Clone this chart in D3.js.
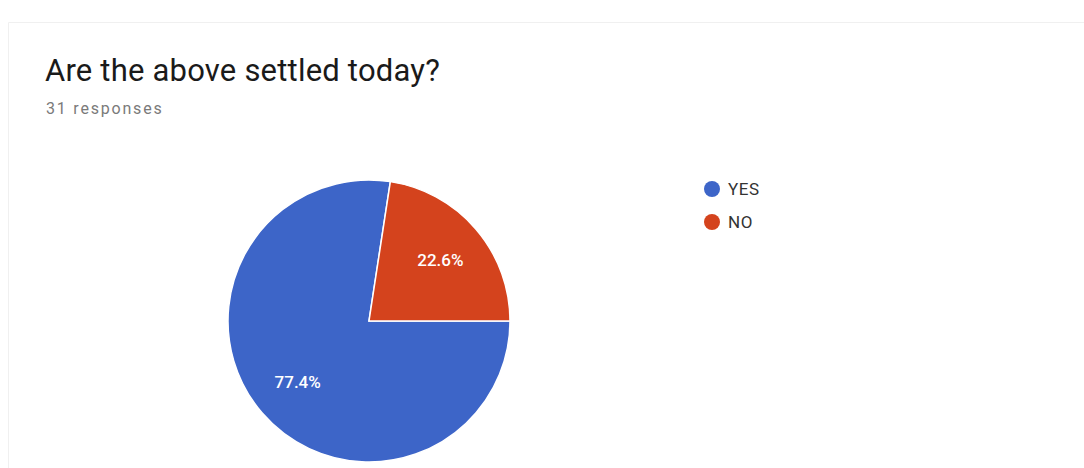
<!DOCTYPE html>
<html lang="en">
<head>
    <meta charset="UTF-8">
    <title>Are the above settled today?</title>
    <script src="https://d3js.org/d3.v7.min.js"></script>
    <style>
        body { margin: 0; background: #fff; }
        text { font-family: Roboto, Arial, sans-serif; }
    </style>
</head>
<body>
<div id="chart"></div>

<script>
    // answers and counts (31 responses)
    var answers = ["YES", "NO"];
    var counts = [24, 7];
    var colors = ["#3d65c8", "#d4431d"];
    var title = "Are the above settled today?";
    var subtitle = "31 responses";

    var width = 1084, height = 468;
    var cx = 369, cy = 321, radius = 141;

    var svg = d3.select("#chart")
        .append("svg")
            .attr("width", width)
            .attr("height", height);

    // faint card outline
    svg.append("path")
        .attr("d", "M8.5,468 V22.5 H1084")
        .attr("fill", "none")
        .attr("stroke", "#f0f0f0");

    svg.append("text")
        .attr("x", 45).attr("y", 81)
        .attr("font-size", 31)
        .attr("letter-spacing", 0.2)
        .attr("fill", "#1a1a1a")
        .text(title);

    svg.append("text")
        .attr("x", 46).attr("y", 114)
        .attr("font-size", 16)
        .attr("letter-spacing", 1.8)
        .attr("fill", "#7a7a7a")
        .text(subtitle);

    var total = d3.sum(counts);
    var data = answers.map(function (a, i) { return {answer: a, count: counts[i]}; });

    var color = d3.scaleOrdinal().domain(answers).range(colors);

    // pie starts at 3 o'clock and runs clockwise
    var pie = d3.pie()
        .sort(null)
        .value(function (d) { return d.count; })
        .startAngle(Math.PI / 2)
        .endAngle(Math.PI / 2 + 2 * Math.PI);

    var arc = d3.arc().innerRadius(0).outerRadius(radius);
    var labelArc = d3.arc().innerRadius(94).outerRadius(94);

    var g = svg.append("g")
        .attr("transform", "translate(" + cx + "," + cy + ")");

    var slices = g.selectAll("g.slice")
        .data(pie(data))
        .enter()
        .append("g")
            .attr("class", "slice");

    slices.append("path")
        .attr("d", arc)
        .attr("fill", function (d) { return color(d.data.answer); })
        .attr("stroke", "#fff")
        .attr("stroke-width", 1.5);

    slices.append("text")
        .attr("transform", function (d) { return "translate(" + labelArc.centroid(d) + ")"; })
        .attr("text-anchor", "middle")
        .attr("dy", "0.35em")
        .attr("font-size", 17)
        .attr("font-weight", 500)
        .attr("fill", "#fff")
        .text(function (d) { return (d.data.count / total * 100).toFixed(1) + "%"; });

    // legend
    var legend = svg.selectAll("g.legend")
        .data(answers)
        .enter()
        .append("g")
            .attr("class", "legend")
            .attr("transform", function (d, i) { return "translate(712," + (189 + i * 33) + ")"; });

    legend.append("circle")
        .attr("r", 8)
        .attr("fill", function (d) { return color(d); });

    legend.append("text")
        .attr("x", 16)
        .attr("dy", "0.35em")
        .attr("font-size", 17)
        .attr("letter-spacing", 0.6)
        .attr("fill", "#333")
        .text(function (d) { return d; });
</script>
</body>
</html>
